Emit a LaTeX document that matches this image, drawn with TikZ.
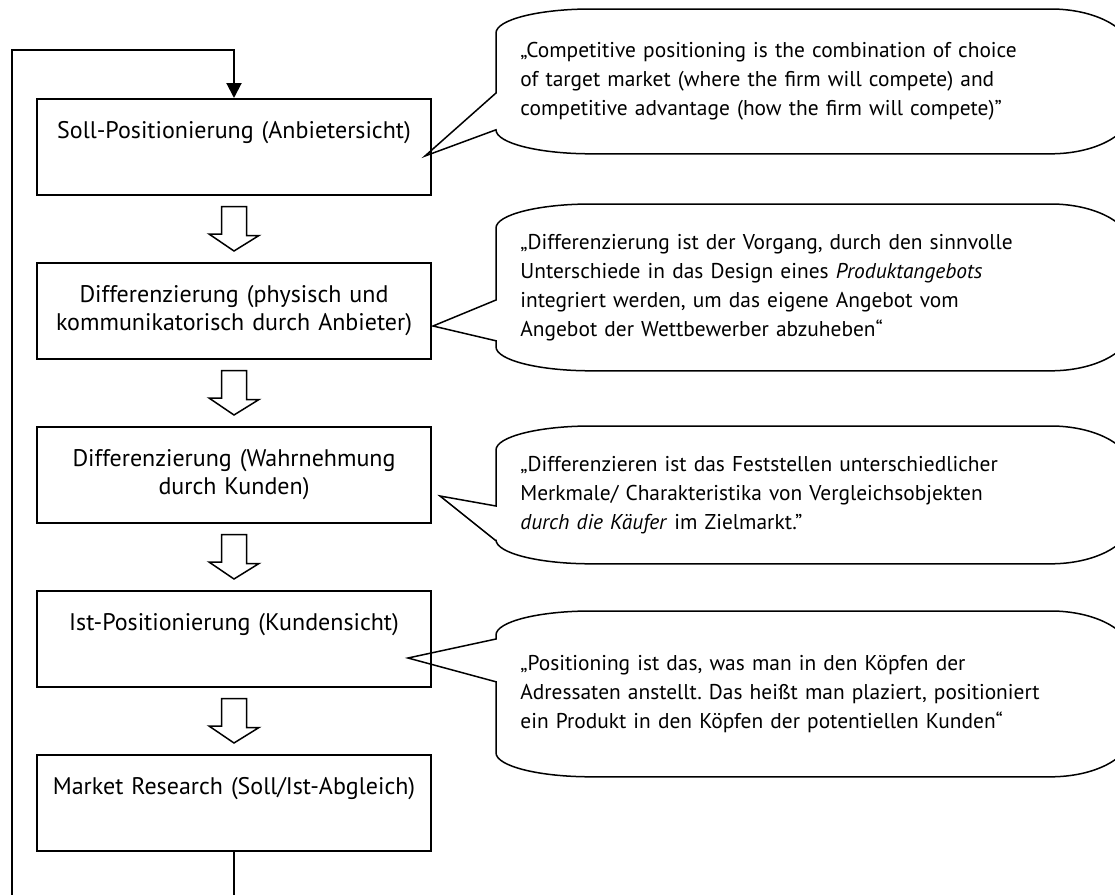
\documentclass[tikz,border=0pt]{standalone}
\usepackage{fontspec}
\setmainfont{PT Sans}
\usetikzlibrary{calc}
\usetikzlibrary{arrows.meta}
\frenchspacing

\tikzset{
  stufe/.style={draw, line width=0.75pt, anchor=north, minimum width=197pt,
    text width=197pt, inner xsep=0pt, inner ysep=0pt, align=center,
    text height=20pt, text depth=28pt, font=\fontsize{12}{13.75}\selectfont},
  zitat/.style={anchor=north west, minimum width=317pt, text width=293pt,
    inner xsep=12pt, inner ysep=0pt, align=left,
    font=\fontsize{10.7}{14.5}\selectfont},
  blase/.style={line width=0.75pt},
  block/.style={line width=0.75pt, line join=miter},
  rueck/.style={line width=1pt, -{Triangle[length=7.5pt, width=7.5pt]}}
}

% speech bubble round a zitat node: node, tip, upper join, lower join
\newcommand{\blase}[4]{%
  \draw [blase] ($(#1.north west)+(0,#3)$) -- ($(#1.north west)+(0,24)$)
    .. controls +(0,-13.25) and +(-52.5,0) .. ($(#1.north west)+(95,0)$)
    -- ($(#1.north east)+(-80,0)$)
    .. controls +(44,0) and +(0,-23) .. ($(#1.north east)+(0,42)$)
    -- ($(#1.south east)+(0,-42)$)
    .. controls +(0,23) and +(44,0) .. ($(#1.south east)+(-80,0)$)
    -- ($(#1.south west)+(95,0)$)
    .. controls +(-52.5,0) and +(0,13.25) .. ($(#1.south west)+(0,-24)$)
    -- ($(#1.south west)+(0,-#4)$) -- (#2) -- cycle;}

\begin{document}
\begin{tikzpicture}[x=0.5pt, y=-0.5pt]

\useasboundingbox (0,0) rectangle (1115,895);

% steps
\foreach \n/\t [count=\i from 0] in {
    soll/{Soll-Positionierung (Anbietersicht)},
    diffa/{Differenzierung (physisch und\\ kommunikatorisch durch Anbieter)},
    diffb/{Differenzierung (Wahrnehmung\\ durch Kunden)},
    ist/{Ist-Positionierung (Kundensicht)},
    markt/{Market Research (Soll/Ist-Abgleich)}}
  \node [stufe] (\n) at (234,98+164*\i) {\t};

\foreach \a/\b in {soll/diffa, diffa/diffb, diffb/ist, ist/markt}
  \draw [block] ($(\a.south)+(-12.5,11)$) -- ++(25,0) -- ++(0,29)
    -- ++(12.5,0) -- ($(\b.north)+(0,-11)$) -- ++(-25,-17) -- ++(12.5,0) -- cycle;

% feedback loop
\coordinate (links) at (12,50);
\draw [rueck] (markt.south) -- ++(0,80) -| (links) -| (soll.north);

% quotes
\node [zitat, minimum height=72pt] (zitat1) at (496,9)
  {„Competitive positioning is the combination of choice\\
   of target market (where the firm will compete) and\\
   competitive advantage (how the firm will compete)”};
\node [zitat, minimum height=83pt] (zitat2) at (496,204)
  {„Differenzierung ist der Vorgang, durch den sinnvolle\\
   Unterschiede in das Design eines \textit{Produktangebots}\\
   integriert werden, um das eigene Angebot vom\\
   Angebot der Wettbewerber abzuheben“};
\node [zitat, minimum height=68.5pt] (zitat3) at (496,426)
  {„Differenzieren ist das Feststellen unterschiedlicher\\
   Merkmale/ Charakteristika von Vergleichsobjekten\\
   \textit{durch die Käufer} im Zielmarkt."};
\node [zitat, minimum height=82.5pt] (zitat4) at (496,611)
  {„Positioning ist das, was man in den Köpfen der\\
   Adressaten anstellt. Das heißt man plaziert, positioniert\\
   ein Produkt in den Köpfen der potentiellen Kunden“};

\coordinate (spitze1) at (425,156);
\coordinate (spitze2) at (433,326);
\coordinate (spitze3) at (440,496);
\coordinate (spitze4) at (408,658);

\blase{zitat1}{spitze1}{84}{24}
\blase{zitat2}{spitze2}{96}{30}
\blase{zitat3}{spitze3}{80}{23}
\blase{zitat4}{spitze4}{28}{95}

\end{tikzpicture}
\end{document}
